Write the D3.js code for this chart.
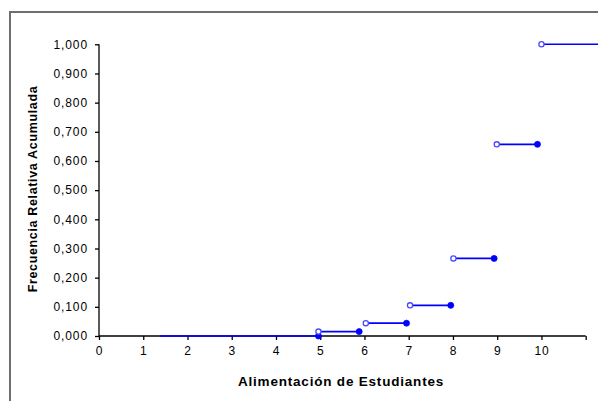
<!DOCTYPE html>
<html>
<head>
<meta charset="utf-8">
<script src="https://cdn.jsdelivr.net/npm/d3@7"></script>
<style>
  html, body { margin: 0; padding: 0; background: #fff; }
  svg { display: block; }
  text { font-family: "Liberation Sans", Arial, sans-serif; }
</style>
</head>
<body>
<svg id="chart" width="598" height="401"></svg>
<script>
// Data
const stepStart = [1.38, 4.96, 6.03, 7.03, 8.01, 8.99, 10.0];
const stepEnd   = [4.96, 5.88, 6.95, 7.95, 8.93, 9.91, 11.6];
const cumFreq   = [0.000, 0.015, 0.044, 0.105, 0.266, 0.657, 1.000];
const hasOpen   = [false, true, true, true, true, true, true];
const hasFilled = [true, true, true, true, true, true, false];
const xTicks = [0, 1, 2, 3, 4, 5, 6, 7, 8, 9, 10, 11];
const xTickLabels = ["0", "1", "2", "3", "4", "5", "6", "7", "8", "9", "10", ""];
const yTicks = [0, 0.1, 0.2, 0.3, 0.4, 0.5, 0.6, 0.7, 0.8, 0.9, 1.0];
const xTitle = "Alimentación de Estudiantes";
const yTitle = "Frecuencia Relativa Acumulada";

const svg = d3.select("#chart");

// outer frame (extends beyond the visible area at right and bottom)
svg.append("rect")
  .attr("x", 10).attr("y", 12)
  .attr("width", 640).attr("height", 440)
  .attr("fill", "none").attr("stroke", "#6e6e6e").attr("stroke-width", 2);

const x = d3.scaleLinear().domain([0, 11]).range([99, 585.7]);
const y = d3.scaleLinear().domain([0, 1]).range([336, 44.3]);

const fmt = v => d3.format(".3f")(v).replace(".", ",");

// Y axis
const yAxis = svg.append("g")
  .attr("transform", `translate(${x(0)},0)`)
  .call(d3.axisLeft(y).tickValues(yTicks).tickFormat(fmt).tickSize(4).tickPadding(7));
// X axis
const xAxis = svg.append("g")
  .attr("transform", `translate(0,${y(0)})`)
  .call(d3.axisBottom(x).tickValues(xTicks).tickFormat((d, i) => xTickLabels[i]).tickSize(4).tickPadding(6));

[yAxis, xAxis].forEach(g => {
  g.select(".domain").attr("stroke", "#000").attr("stroke-width", 1.3);
  g.selectAll(".tick line").attr("stroke", "#000").attr("stroke-width", 1.3);
  g.selectAll(".tick text")
    .attr("fill", "#000")
    .style("font-size", "12px")
    .style("letter-spacing", "0.9px");
});
yAxis.select(".domain").attr("d", `M0,${y(1)}V${y(0)}`);
xAxis.select(".domain").attr("d", `M${x(0)},0H${x(11)}`);

// Titles
svg.append("text")
  .attr("x", 341).attr("y", 386)
  .attr("text-anchor", "middle")
  .style("font-size", "13.5px").style("font-weight", "bold")
  .style("letter-spacing", "0.8px")
  .text(xTitle);

svg.append("text")
  .attr("transform", `translate(37,${189}) rotate(-90)`)
  .attr("text-anchor", "middle")
  .style("font-size", "12.5px").style("font-weight", "bold")
  .style("letter-spacing", "0.65px")
  .text(yTitle);

// Step segments
const segs = stepStart.map((s, i) => ({ s, e: stepEnd[i], v: cumFreq[i], open: hasOpen[i], filled: hasFilled[i] }));
const blue = "#0000ff";

svg.append("g").selectAll("line").data(segs).join("line")
  .attr("x1", d => x(d.s)).attr("x2", d => x(d.e))
  .attr("y1", d => y(d.v)).attr("y2", d => y(d.v))
  .attr("stroke", blue).attr("stroke-width", 1.6);

svg.append("g").selectAll("circle").data(segs.filter(d => d.filled)).join("circle")
  .attr("cx", d => x(d.e)).attr("cy", d => y(d.v)).attr("r", 3)
  .attr("fill", blue).attr("stroke", blue).attr("stroke-width", 0.8);

svg.append("g").selectAll("circle").data(segs.filter(d => d.open)).join("circle")
  .attr("cx", d => x(d.s)).attr("cy", d => y(d.v)).attr("r", 2.6)
  .attr("fill", "#fff").attr("stroke", "#4a4aff").attr("stroke-width", 1.3);
</script>
</body>
</html>
